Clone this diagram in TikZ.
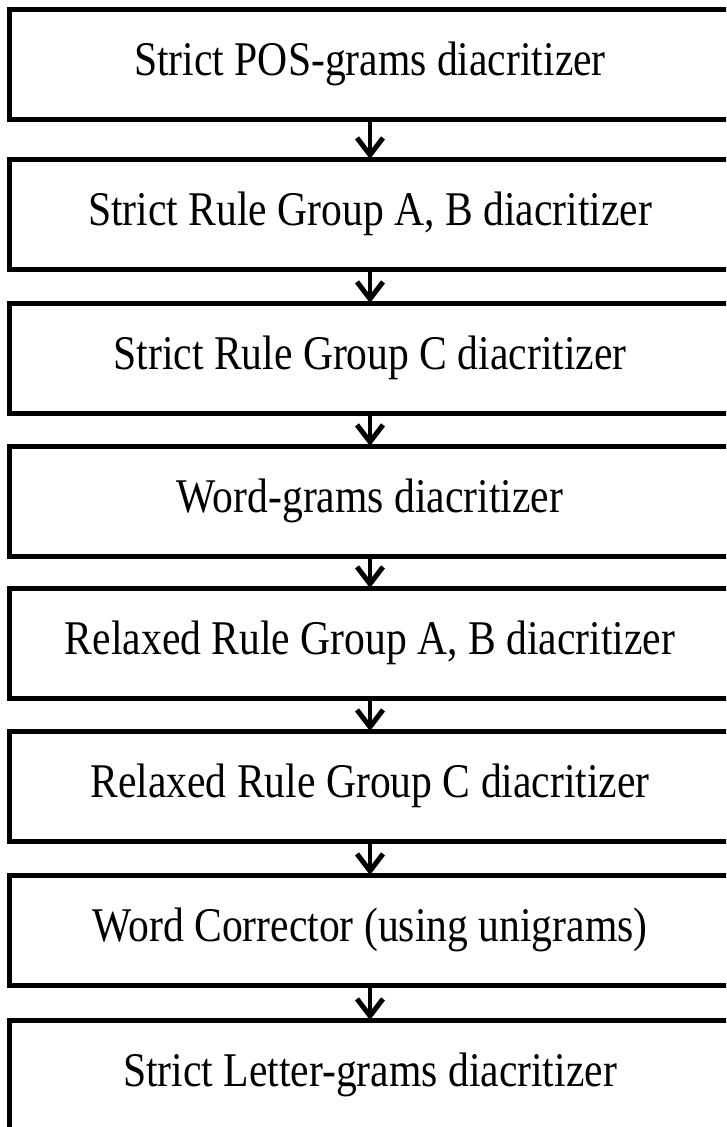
\documentclass[tikz,border=0pt]{standalone}
\usepackage{fontspec}
\usepackage{graphicx}
\setmainfont{Liberation Serif}
\usetikzlibrary{arrows.meta}
\newcommand{\tallt}[1]{\raisebox{-4pt}{\scalebox{1.015}[1.18]{#1}}}
\begin{document}
\begin{tikzpicture}[x=1pt,y=-1pt,
  stagebox/.style={draw=black, line width=5pt, minimum width=722pt, minimum height=110pt,
    inner sep=0pt, outer sep=0pt, font=\fontsize{41}{49}\selectfont},
  flowarrow/.style={line width=4pt, -{Straight Barb[length=17pt,width=26pt,line width=5pt]}}]
\useasboundingbox (0,0) rectangle (726,1127);
\begin{scope}
\clip (0,0) rectangle (726,1127);
\node[stagebox] (b1) at (370,64)   {\tallt{Strict POS-grams diacritizer}};
\node[stagebox] (b2) at (370,214)  {\tallt{Strict Rule Group A, B diacritizer}};
\node[stagebox] (b3) at (370,358)  {\tallt{Strict Rule Group C diacritizer}};
\node[stagebox] (b4) at (370,501)  {\tallt{Word-grams diacritizer}};
\node[stagebox] (b5) at (370,643)  {\tallt{Relaxed Rule Group A, B diacritizer}};
\node[stagebox] (b6) at (370,786)  {\tallt{Relaxed Rule Group C diacritizer}};
\node[stagebox] (b7) at (370,930)  {\tallt{Word Corrector (using unigrams)}};
\node[stagebox] (b8) at (370,1075) {\tallt{Strict Letter-grams diacritizer}};
\foreach \a/\b in {b1/b2,b2/b3,b3/b4,b4/b5,b5/b6,b6/b7,b7/b8}
  \draw[flowarrow] (\a.south) -- (\b.north);
\end{scope}
\end{tikzpicture}
\end{document}
